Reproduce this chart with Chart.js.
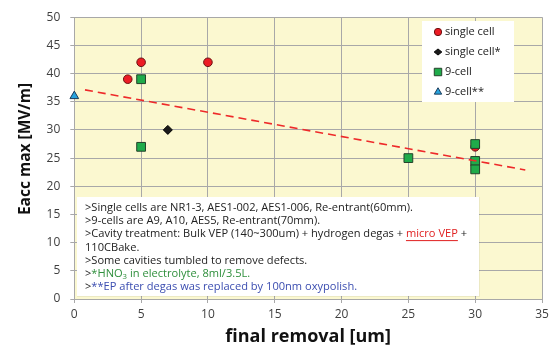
<!DOCTYPE html>
<html>
<head>
<meta charset="utf-8">
<script src="https://cdn.jsdelivr.net/npm/chart.js@4"></script>
<style>
  html, body { margin: 0; padding: 0; background: #fff; }
  #wrap { width: 553px; height: 348px; }
</style>
</head>
<body>
<div id="wrap"><canvas id="chart" width="553" height="348"></canvas></div>
<script>
// data
const singleX = [4, 5, 10, 30];
const singleY = [39, 42, 42, 27];
const singleStarX = [7];
const singleStarY = [30];
const nineX = [5, 5, 25, 30, 30, 30];
const nineY = [39, 27, 25, 27.5, 24.5, 23];
const nineStarX = [0];
const nineStarY = [36];
const trendX = [0.8, 33.75];
const trendY = [37.1, 22.9];

const seriesNames = ['single cell', 'single cell*', '9-cell', '9-cell**'];
const xTicks = [0, 5, 10, 15, 20, 25, 30, 35];
const yTicks = [0, 5, 10, 15, 20, 25, 30, 35, 40, 45, 50];

const notes = [
  [['>Single cells are NR1-3, AES1-002, AES1-006, Re-entrant(60mm).', '#222']],
  [['>9-cells are A9, A10, AES5, Re-entrant(70mm).', '#222']],
  [['>Cavity treatment: Bulk VEP (140~300um) + hydrogen degas + ', '#222'], ['micro VEP', '#e02020', 'u'], [' +', '#222']],
  [['110CBake.', '#222']],
  [['>Some cavities tumbled to remove defects.', '#222']],
  [['>', '#222'], ['*HNO', '#2f8f3c'], ['3', '#2f8f3c', 'sub'], [' in electrolyte, 8ml/3.5L.', '#2f8f3c']],
  [['>', '#222'], ['**EP after degas was replaced by 100nm oxypolish.', '#3b4db0']]
];

const zip = (xs, ys) => xs.map((x, i) => ({ x: x, y: ys[i] }));

const FONT = '"Open Sans", "Noto Sans", sans-serif';

// pale yellow plot area
const plotBg = {
  id: 'plotBg',
  beforeDraw(chart) {
    const { ctx, chartArea: a } = chart;
    ctx.save();
    ctx.fillStyle = '#fbf8d0';
    ctx.fillRect(a.left, a.top, a.right - a.left, a.bottom - a.top);
    ctx.restore();
  }
};

// white legend box and note box inside the plot
const boxes = {
  id: 'boxes',
  beforeDatasetsDraw(chart) {
    const ctx = chart.ctx;
    ctx.save();

    // legend
    ctx.fillStyle = '#fff';
    ctx.fillRect(422, 21, 92, 81);
    ctx.font = '11px ' + FONT;
    ctx.textBaseline = 'middle';
    ctx.textAlign = 'left';
    for (let i = 0; i < seriesNames.length; i++) {
      const ds = chart.data.datasets[i];
      const y = 32 + i * 20;
      drawMarker(ctx, ds.pointStyle, 438, y, ds.pointRadius * 0.85, ds.backgroundColor, ds.borderColor);
      ctx.fillStyle = '#222';
      ctx.fillText(seriesNames[i], 445, y);
    }

    // notes
    ctx.fillStyle = '#fff';
    ctx.fillRect(77, 197, 402, 99);
    ctx.fillStyle = 'rgba(0,0,0,0.06)';
    ctx.fillRect(77, 296, 402, 1);
    ctx.fillRect(479, 197, 1, 100);
    const fs = 11.1;
    notes.forEach((line, i) => {
      let x = 85;
      const y = 207.5 + i * 13.3;
      line.forEach(seg => {
        const [txt, col, flag] = seg;
        ctx.fillStyle = col;
        if (flag === 'sub') {
          ctx.font = (fs * 0.7) + 'px ' + FONT;
          ctx.fillText(txt, x, y + 3);
        } else {
          ctx.font = fs + 'px ' + FONT;
          ctx.fillText(txt, x, y);
        }
        const w = ctx.measureText(txt).width;
        if (flag === 'u') {
          ctx.fillRect(x, y + 6, w, 1);
        }
        x += w;
      });
    });
    ctx.restore();
  },
  afterDraw(chart) {
    // vertical axis title, centred a little above the plot centre like the source
    const ctx = chart.ctx;
    ctx.save();
    ctx.translate(26, 149);
    ctx.rotate(-Math.PI / 2);
    ctx.font = 'bold 15.5px ' + FONT;
    ctx.fillStyle = '#111';
    ctx.textAlign = 'center';
    ctx.textBaseline = 'middle';
    ctx.fillText('Eacc max [MV/m]', 0, 0);
    ctx.restore();
  }
};

function drawMarker(ctx, style, x, y, r, fill, stroke) {
  ctx.beginPath();
  if (style === 'circle') {
    ctx.arc(x, y, r, 0, Math.PI * 2);
  } else if (style === 'rect') {
    const s = r * Math.SQRT1_2;
    ctx.rect(x - s, y - s, 2 * s, 2 * s);
  } else if (style === 'rectRot') {
    ctx.moveTo(x - r, y); ctx.lineTo(x, y - r * 0.8); ctx.lineTo(x + r, y); ctx.lineTo(x, y + r * 0.8);
    ctx.closePath();
  } else if (style === 'triangle') {
    ctx.moveTo(x, y - r);
    ctx.lineTo(x + r * 0.866, y + r * 0.5);
    ctx.lineTo(x - r * 0.866, y + r * 0.5);
    ctx.closePath();
  }
  ctx.fillStyle = fill;
  ctx.fill();
  ctx.lineWidth = 1;
  ctx.strokeStyle = stroke;
  ctx.stroke();
}

new Chart(document.getElementById('chart'), {
  type: 'scatter',
  data: {
    datasets: [
      {
        label: seriesNames[0],
        data: zip(singleX, singleY),
        pointStyle: 'circle',
        pointRadius: 4.3,
        backgroundColor: '#ec1c24',
        borderColor: '#6b1212',
        borderWidth: 1,
        order: 3
      },
      {
        label: seriesNames[1],
        data: zip(singleStarX, singleStarY),
        pointStyle: 'rectRot',
        pointRadius: 4.5,
        backgroundColor: '#1a1a1a',
        borderColor: '#000',
        borderWidth: 1,
        order: 2
      },
      {
        label: seriesNames[2],
        data: zip(nineX, nineY),
        pointStyle: 'rect',
        pointRadius: 6.2,
        backgroundColor: '#1fab4a',
        borderColor: '#24402a',
        borderWidth: 1,
        order: 1
      },
      {
        label: seriesNames[3],
        data: zip(nineStarX, nineStarY),
        pointStyle: 'triangle',
        pointRadius: 5,
        backgroundColor: '#27a3dd',
        borderColor: '#1b3a5a',
        borderWidth: 1,
        clip: false,
        order: 1
      },
      {
        type: 'line',
        label: 'trend',
        data: zip(trendX, trendY),
        borderColor: '#ee2a2a',
        borderWidth: 1.6,
        borderDash: [8, 5],
        pointRadius: 0,
        fill: false,
        order: 0
      }
    ]
  },
  options: {
    responsive: false,
    animation: false,
    layout: { padding: { left: 0, right: 11, top: 15.5, bottom: 0 } },
    plugins: {
      legend: { display: false },
      tooltip: { enabled: false }
    },
    scales: {
      x: {
        type: 'linear',
        min: xTicks[0],
        max: xTicks[xTicks.length - 1],
        afterBuildTicks: s => { s.ticks = xTicks.map(v => ({ value: v })); },
        afterFit: s => { s.height = 49; },
        grid: { color: '#a8a8a8', tickLength: 4, lineWidth: 1 },
        border: { color: '#a8a8a8' },
        ticks: { color: '#404040', font: { family: FONT, size: 12 }, padding: 4 },
        title: {
          display: true,
          text: 'final removal [um]',
          color: '#111',
          font: { family: FONT, size: 18, weight: 'bold' },
          padding: { top: 0, bottom: 0 }
        }
      },
      y: {
        type: 'linear',
        min: yTicks[0],
        max: yTicks[yTicks.length - 1],
        afterBuildTicks: s => { s.ticks = yTicks.map(v => ({ value: v })); },
        afterFit: s => { s.width = 74.3; },
        grid: { color: '#a8a8a8', tickLength: 4, lineWidth: 1 },
        border: { color: '#a8a8a8' },
        ticks: { color: '#404040', font: { family: FONT, size: 12 }, padding: 10 }
      }
    }
  },
  plugins: [plotBg, boxes]
});
</script>
</body>
</html>
